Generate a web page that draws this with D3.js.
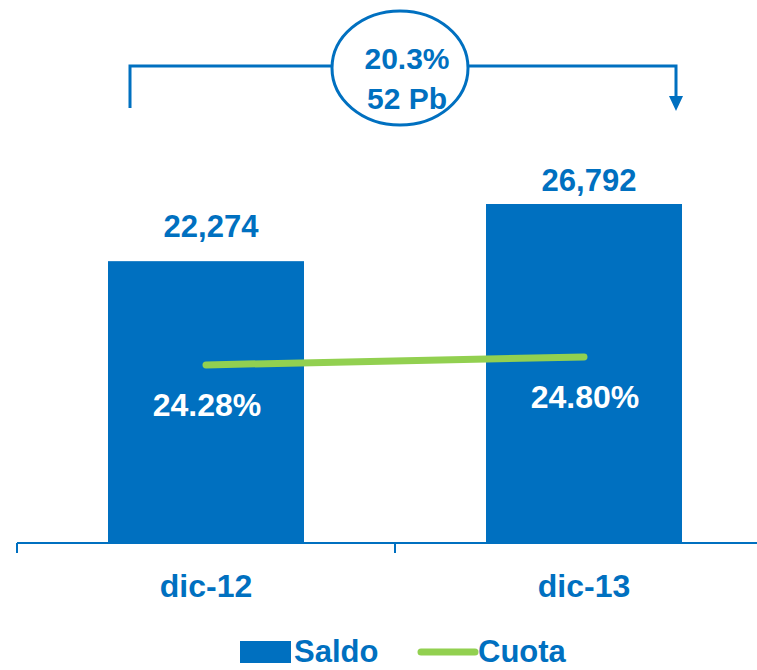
<!DOCTYPE html>
<html>
<head>
<meta charset="utf-8">
<script src="https://cdn.jsdelivr.net/npm/d3@7"></script>
<style>
  body { margin: 0; background: #fff; }
  svg { display: block; }
  text { font-family: "Liberation Sans", Arial, sans-serif; font-weight: bold; }
</style>
</head>
<body>
<svg id="chart" width="757" height="670"></svg>
<script>
const categories = ["dic-12", "dic-13"];
const saldo = [22274, 26792];
const cuota = [24.28, 24.80];
const saldoLabels = ["22,274", "26,792"];
const cuotaLabels = ["24.28%", "24.80%"];
const growthLabels = ["20.3%", "52 Pb"];
const legendLabels = ["Saldo", "Cuota"];

const BLUE = "#0070C0", GREEN = "#92D050";
const svg = d3.select("#chart");

const x = d3.scaleBand().domain(categories).range([17, 773]).paddingInner(0).paddingOuter(0);
const y = d3.scaleLinear().domain([0, 30000]).range([543, 543 - 339 * 30000 / 26792]);
const y2 = d3.scaleLinear().domain([12.7, 36]).range([543, 543 - 23.3 * 15.38]);
const barW = 196;
const valGap = [24, 13];

// bars
svg.selectAll("rect.bar").data(saldo).join("rect")
  .attr("class", "bar")
  .attr("x", (d, i) => x(categories[i]) + x.bandwidth() / 2 - barW / 2)
  .attr("y", d => y(d))
  .attr("width", barW)
  .attr("height", d => y(0) - y(d))
  .attr("fill", BLUE);

// axis
const gx = svg.append("g").attr("transform", `translate(0,${y(0)})`);
gx.append("line").attr("x1", 17).attr("x2", 773).attr("y1", 0).attr("y2", 0)
  .attr("stroke", BLUE).attr("stroke-width", 2);
const bounds = [x(categories[0]), x(categories[1]), x(categories[1]) + x.bandwidth()];
gx.selectAll("line.tk").data(bounds).join("line").attr("class", "tk")
  .attr("x1", d => d).attr("x2", d => d).attr("y1", 0).attr("y2", 10)
  .attr("stroke", BLUE).attr("stroke-width", 2);

// category labels
svg.selectAll("text.cat").data(categories).join("text")
  .attr("class", "cat")
  .attr("x", d => x(d) + x.bandwidth() / 2)
  .attr("y", 597)
  .attr("text-anchor", "middle")
  .attr("font-size", 32)
  .attr("fill", BLUE)
  .text(d => d);

// value labels above bars
svg.selectAll("text.val").data(saldo).join("text")
  .attr("class", "val")
  .attr("x", (d, i) => x(categories[i]) + x.bandwidth() / 2 + 5)
  .attr("y", (d, i) => y(d) - valGap[i])
  .attr("text-anchor", "middle")
  .attr("font-size", 31)
  .attr("fill", BLUE)
  .text((d, i) => saldoLabels[i]);

// cuota line
const line = d3.line()
  .x((d, i) => x(categories[i]) + x.bandwidth() / 2)
  .y(d => y2(d));
svg.append("path").datum(cuota)
  .attr("d", line)
  .attr("fill", "none")
  .attr("stroke", GREEN)
  .attr("stroke-width", 7)
  .attr("stroke-linecap", "round");

// cuota labels
svg.selectAll("text.cu").data(cuota).join("text")
  .attr("class", "cu")
  .attr("x", (d, i) => x(categories[i]) + x.bandwidth() / 2 + 1)
  .attr("y", d => y2(d) + 51)
  .attr("text-anchor", "middle")
  .attr("font-size", 32)
  .attr("fill", "#fff")
  .text((d, i) => cuotaLabels[i]);

// growth bracket
const bl = 130, br = 676, by = 66;
const ellX = 400, ellY = 68, rx = 68, ry = 57;
svg.append("path")
  .attr("d", `M${bl},108 L${bl},${by} L${ellX - rx},${by} M${ellX + rx},${by} L${br},${by} L${br},98`)
  .attr("fill", "none").attr("stroke", BLUE).attr("stroke-width", 3);
svg.append("path")
  .attr("d", `M${br - 7},96 L${br + 7},96 L${br},111 Z`)
  .attr("fill", BLUE);
svg.append("ellipse")
  .attr("cx", ellX).attr("cy", ellY).attr("rx", rx).attr("ry", ry)
  .attr("fill", "none").attr("stroke", BLUE).attr("stroke-width", 3);
svg.selectAll("text.gr").data(growthLabels).join("text")
  .attr("class", "gr")
  .attr("x", 407)
  .attr("y", (d, i) => 69 + i * 40)
  .attr("text-anchor", "middle")
  .attr("font-size", 30)
  .attr("fill", BLUE)
  .text(d => d);

// legend
const lg = svg.append("g");
lg.append("rect").attr("x", 240).attr("y", 641).attr("width", 51).attr("height", 22).attr("fill", BLUE);
lg.append("text").attr("x", 294).attr("y", 662).attr("font-size", 31).attr("fill", BLUE).text(legendLabels[0]);
lg.append("line").attr("x1", 421).attr("x2", 475).attr("y1", 652).attr("y2", 652)
  .attr("stroke", GREEN).attr("stroke-width", 7).attr("stroke-linecap", "round");
lg.append("text").attr("x", 478).attr("y", 662).attr("font-size", 31).attr("fill", BLUE).text(legendLabels[1]);
</script>
</body>
</html>
